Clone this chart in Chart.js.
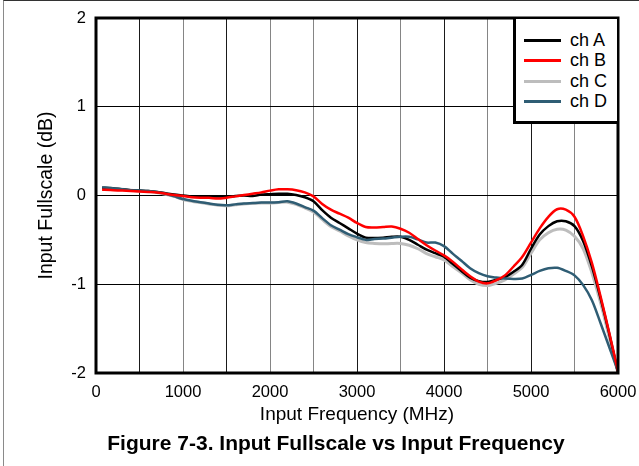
<!DOCTYPE html>
<html>
<head>
<meta charset="utf-8">
<script src="https://cdn.jsdelivr.net/npm/chart.js@4.4.0/dist/chart.umd.min.js"></script>
<style>
  html, body { margin: 0; padding: 0; background: #fff; }
  #wrap { position: relative; width: 639px; height: 466px; overflow: hidden; background: #fff; }
  #c { position: absolute; left: 0; top: 0; }
  #frame { position: absolute; left: 3px; top: 0; width: 700px; height: 500px;
           border-left: 1px solid #8a8a8a; border-top: 1px solid #333; pointer-events: none; }
  #legend { position: absolute; left: 513px; top: 17px; width: 106px; height: 107px; box-sizing: border-box;
            border-top: 2px solid #000; border-right: 2px solid #000; border-left: 3px solid #000; border-bottom: 3px solid #000;
            background: #fff; padding-top: 10.75px; font-family: "Liberation Sans", Arial, sans-serif; font-size: 18px; color: #000; }
  .row { height: 20.5px; display: flex; align-items: center; }
  .sw { display: inline-block; width: 37px; height: 3px; margin-left: 8px; margin-right: 9px; }
  #caption { position: absolute; left: 36px; width: 600px; top: 430px; height: 26px; line-height: 26px; text-align: center;
             font-family: "Liberation Sans", Arial, sans-serif; font-weight: bold; font-size: 21px; color: #000; white-space: nowrap; }
</style>
</head>
<body>
<div id="wrap">
  <canvas id="c" width="639" height="466"></canvas>
  <div id="legend"></div>
  <div id="caption"></div>
  <div id="frame"></div>
</div>
<script>
// ---------- data ----------
const freqMHz = [70, 100, 200, 300, 400, 500, 600, 700, 800, 900,
  1000, 1100, 1200, 1300, 1400, 1500, 1600, 1700, 1800, 1900,
  2000, 2100, 2200, 2300, 2400, 2500, 2600, 2700, 2800, 2900,
  3000, 3100, 3200, 3300, 3400, 3500, 3600, 3700, 3800, 3900,
  4000, 4100, 4200, 4300, 4400, 4500, 4600, 4700, 4800, 4900,
  5000, 5100, 5200, 5300, 5400, 5500, 5600, 5700, 5800, 5900, 6000];

const seriesNames = ['ch A', 'ch B', 'ch C', 'ch D'];

const chA = [0.085, 0.085, 0.08, 0.07, 0.06, 0.055, 0.05, 0.04, 0.025, 0.01,
  0.0, -0.01, -0.015, -0.015, -0.01, -0.015, -0.005, 0.0, -0.005, 0.01,
  0.015, 0.02, 0.02, 0.005, -0.02, -0.065, -0.165, -0.25, -0.31, -0.37,
  -0.43, -0.475, -0.48, -0.475, -0.465, -0.465, -0.5, -0.555, -0.61, -0.65,
  -0.69, -0.77, -0.85, -0.925, -0.965, -0.975, -0.95, -0.92, -0.86, -0.78,
  -0.6, -0.44, -0.345, -0.29, -0.29, -0.345, -0.515, -0.8, -1.16, -1.56, -2.0];

const chB = [0.065, 0.065, 0.06, 0.055, 0.05, 0.045, 0.04, 0.035, 0.02, 0.005,
  -0.005, -0.02, -0.025, -0.025, -0.035, -0.025, -0.01, 0.005, 0.02, 0.035,
  0.055, 0.07, 0.07, 0.06, 0.035, -0.01, -0.095, -0.16, -0.205, -0.25,
  -0.31, -0.355, -0.36, -0.355, -0.35, -0.375, -0.42, -0.49, -0.56, -0.62,
  -0.675, -0.745, -0.83, -0.91, -0.97, -0.99, -0.955, -0.9, -0.8, -0.69,
  -0.53, -0.37, -0.24, -0.155, -0.16, -0.24, -0.46, -0.76, -1.14, -1.55, -1.98];

const chC = [0.09, 0.09, 0.08, 0.07, 0.06, 0.05, 0.045, 0.035, 0.015, -0.01,
  -0.045, -0.065, -0.08, -0.095, -0.11, -0.115, -0.105, -0.095, -0.09, -0.085,
  -0.085, -0.08, -0.075, -0.1, -0.14, -0.185, -0.27, -0.35, -0.4, -0.455,
  -0.5, -0.53, -0.54, -0.545, -0.54, -0.54, -0.56, -0.6, -0.655, -0.69,
  -0.725, -0.8, -0.87, -0.95, -1.0, -1.015, -0.99, -0.95, -0.885, -0.81,
  -0.65, -0.5, -0.42, -0.38, -0.39, -0.46, -0.6, -0.87, -1.21, -1.6, -2.0];

const chD = [0.09, 0.09, 0.08, 0.07, 0.06, 0.055, 0.05, 0.04, 0.02, -0.01,
  -0.04, -0.06, -0.075, -0.09, -0.105, -0.11, -0.1, -0.09, -0.085, -0.08,
  -0.08, -0.075, -0.065, -0.09, -0.13, -0.17, -0.255, -0.335, -0.385, -0.435,
  -0.47, -0.5, -0.49, -0.485, -0.475, -0.465, -0.465, -0.495, -0.53, -0.53,
  -0.57, -0.655, -0.735, -0.82, -0.875, -0.91, -0.925, -0.935, -0.94, -0.935,
  -0.895, -0.85, -0.82, -0.815, -0.85, -0.9, -1.01, -1.18, -1.44, -1.71, -1.98];

const xTickValues = [0, 500, 1000, 1500, 2000, 2500, 3000, 3500, 4000, 4500, 5000, 5500, 6000];
const xTickLabels = ['0', '', '1000', '', '2000', '', '3000', '', '4000', '', '5000', '', '6000'];
const yTickValues = [-2, -1, 0, 1, 2];
const yTickLabels = ['-2', '-1', '0', '1', '2'];

const xAxisTitle = 'Input Frequency (MHz)';
const yAxisTitle = 'Input Fullscale (dB)';
const captionText = 'Figure 7-3. Input Fullscale vs Input Frequency';

// ---------- styles ----------
const FONT = '"Liberation Sans", Arial, Helvetica, sans-serif';
const colors = ['#000000', '#ff0000', '#bdbdbd', '#2f5d74'];
const widths = [2.5, 2.5, 3, 2.5];
const drawOrder = [2, 0, 3, 1];
const seriesValues = [chA, chB, chC, chD];
const grayGrid = [1000, 2000, 2500, 3500, 4500, 5500];

const datasets = seriesNames.map((name, i) => ({
  label: name,
  data: freqMHz.map((f, k) => ({ x: f, y: seriesValues[i][k] })),
  borderColor: colors[i],
  backgroundColor: colors[i],
  borderWidth: widths[i],
  pointRadius: 0,
  tension: 0.3,
  fill: false,
  order: drawOrder[i]
}));

// legend + caption (HTML text)
const leg = document.getElementById('legend');
seriesNames.forEach((name, i) => {
  const r = document.createElement('div');
  r.className = 'row';
  const s = document.createElement('span');
  s.className = 'sw';
  s.style.background = colors[i];
  const t = document.createElement('span');
  t.textContent = name;
  r.appendChild(s); r.appendChild(t);
  leg.appendChild(r);
});
document.getElementById('caption').textContent = captionText;

const framePlugin = {
  id: 'plotFrame',
  afterDraw(chart) {
    const { ctx, chartArea: a } = chart;
    ctx.save();
    ctx.strokeStyle = '#000';
    ctx.lineWidth = 3;
    ctx.strokeRect(a.left, a.top, a.right - a.left, a.bottom - a.top);
    ctx.restore();
  }
};

new Chart(document.getElementById('c').getContext('2d'), {
  type: 'line',
  data: { datasets },
  options: {
    responsive: false,
    animation: false,
    layout: { padding: { left: 0, top: 18, right: 21, bottom: 35.2 } },
    plugins: {
      legend: { display: false },
      tooltip: { enabled: false },
      title: { display: false }
    },
    scales: {
      x: {
        type: 'linear', min: 0, max: 6000,
        afterBuildTicks: (s) => { s.ticks = xTickValues.map(v => ({ value: v })); },
        afterFit: (s) => { s.height = 57.8; s.paddingLeft = 0; s.paddingRight = 0; },
        ticks: {
          autoSkip: false, maxRotation: 0, padding: 10, color: '#000',
          font: { family: FONT, size: 16.5 },
          callback: (v) => { const i = xTickValues.indexOf(v); return i >= 0 ? xTickLabels[i] : ''; }
        },
        grid: {
          drawTicks: false,
          color: (c) => (c.tick && grayGrid.includes(c.tick.value)) ? '#858585' : '#1a1a1a',
          lineWidth: 1
        },
        border: { display: false },
        title: { display: true, text: xAxisTitle, color: '#000', font: { family: FONT, size: 19 }, padding: { top: 0, bottom: 5 } }
      },
      y: {
        type: 'linear', min: -2, max: 2,
        afterBuildTicks: (s) => { s.ticks = yTickValues.map(v => ({ value: v })); },
        afterFit: (s) => { s.width = 96; s.paddingTop = 0; s.paddingBottom = 0; },
        ticks: {
          padding: 10, color: '#000', font: { family: FONT, size: 16.5 },
          callback: (v) => { const i = yTickValues.indexOf(v); return i >= 0 ? yTickLabels[i] : ''; }
        },
        grid: { drawTicks: false, color: '#000', lineWidth: 1 },
        border: { display: false },
        title: { display: true, text: yAxisTitle, color: '#000', font: { family: FONT, size: 19.5 }, padding: { top: 35, bottom: 0 } }
      }
    }
  },
  plugins: [framePlugin]
});
</script>
</body>
</html>
